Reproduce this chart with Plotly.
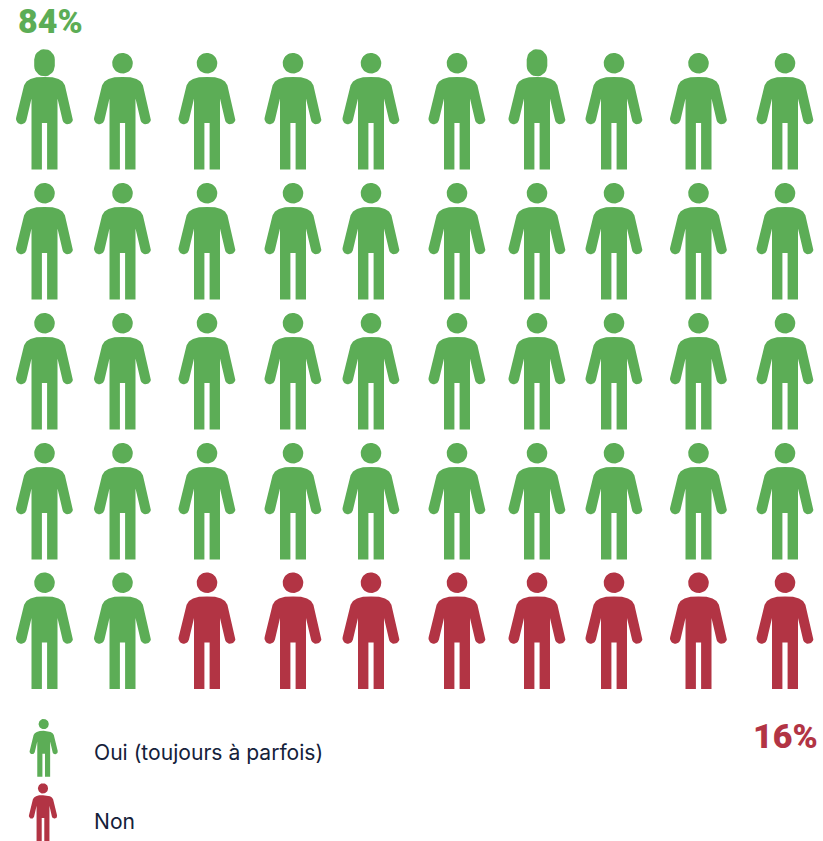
import numpy as np
import plotly.graph_objects as go

# Survey result: one figure stands for two percent
categories = ["Oui (toujours à parfois)", "Non"]
shares = [84, 16]
colors = ["#5CAD56", "#B23444"]
percent_per_figure = 2

# Figure grid, in page pixels
column_x = [44.5, 122.5, 207, 293, 371, 457, 537, 614, 698.5, 785]
row_foot_y = [169.5, 299.5, 429.5, 559.5, 689]
tall_head_cells = {0, 6}  # these two have an elongated head


def arc(cx, cy, r, a0, a1, n=14):
    t = np.radians(np.linspace(a0, a1, n))
    return list(cx + r * np.cos(t)), list(cy + r * np.sin(t))


def person(cx, foot, tall=False, s=1.0):
    """Outline of one figure, returned as x/y lists with gaps between parts."""
    xs, ys = [], []
    # right half of the body, from the crown of the shoulders to the foot
    rx = [0, 8, 14, 18, 20.4]
    ry = [-92.6, -92.2, -90.4, -88, -84.3]
    hx, hy = arc(23.2, -50.6, 5.3, -15, 165)
    rx += hx
    ry += hy
    rx += [13, 13, 2.6, 2.6]
    ry += [-71, 0, 0, -46.6]
    bx = rx + [-v for v in reversed(rx)]
    by = ry + list(reversed(ry))
    xs += [cx + s * v for v in bx] + [None]
    ys += [foot + s * v for v in by] + [None]
    # head
    if tall:
        ax, ay = arc(0, -110, 10.3, 180, 360)
        cx2, cy2 = arc(0, -103.5, 10.3, 0, 180)
        hdx, hdy = ax + cx2, ay + cy2
    else:
        hdx, hdy = arc(0, -106.3, 10.3, 0, 360, 40)
    xs += [cx + s * v for v in hdx] + [None]
    ys += [foot + s * v for v in hdy] + [None]
    return xs, ys


cells = [(c, r) for r in range(len(row_foot_y)) for c in range(len(column_x))]
counts = [share // percent_per_figure for share in shares]
groups = [cells[:counts[0]], cells[counts[0]:counts[0] + counts[1]]]

# Legend figures sit under the grid at half scale
legend_x = [43.7, 43]
legend_foot = [776.7, 841]
legend_label_y = [752.5, 821]

fig = go.Figure()
for i, name in enumerate(categories):
    xs, ys = [], []
    for c, r in groups[i]:
        tall = r == 0 and c in tall_head_cells
        px, py = person(column_x[c], row_foot_y[r], tall)
        xs += px
        ys += py
    px, py = person(legend_x[i], legend_foot[i], s=0.495)
    xs += px
    ys += py
    fig.add_trace(go.Scatter(
        x=xs, y=ys, name=name, mode="lines", fill="toself",
        fillcolor=colors[i], line=dict(width=0, color=colors[i]),
        hoverinfo="name", showlegend=False,
    ))
    fig.add_annotation(x=91.5, y=legend_label_y[i], text=name, showarrow=False,
                       xanchor="left", yanchor="middle",
                       font=dict(family="Inter", size=21.1, color="#14213A"))

fig.add_annotation(x=15.5, y=20.5, text=f"{shares[0]}%", showarrow=False,
                   xanchor="left", yanchor="middle",
                   font=dict(family="Roboto", size=34, weight=900, color=colors[0]))
fig.add_annotation(x=820, y=736, text=f"{shares[1]}%", showarrow=False,
                   xanchor="right", yanchor="middle",
                   font=dict(family="Roboto", size=34, weight=900, color=colors[1]))

fig.update_layout(
    width=823, height=841,
    margin=dict(l=0, r=0, t=0, b=0),
    paper_bgcolor="white", plot_bgcolor="white",
    xaxis=dict(range=[0, 823], visible=False, fixedrange=True),
    yaxis=dict(range=[841, 0], visible=False, fixedrange=True),
)
fig.write_html("out.html", config={"displayModeBar": False})
